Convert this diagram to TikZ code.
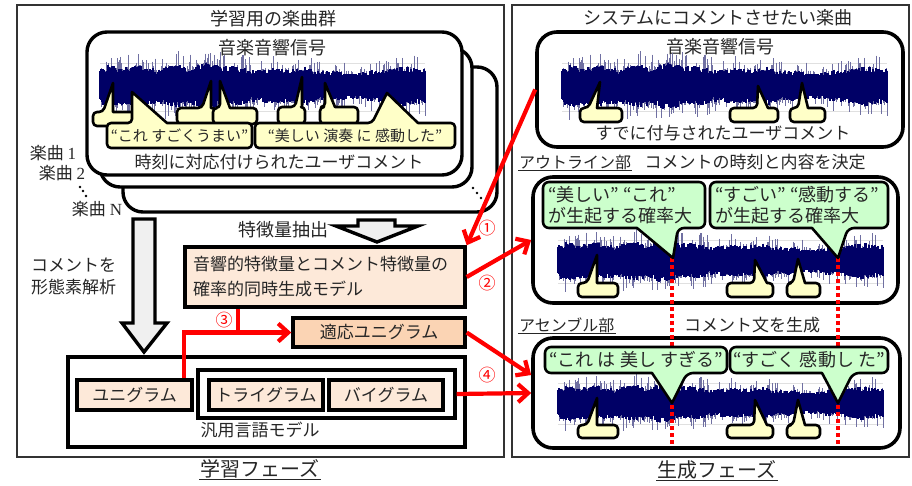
\documentclass[tikz,border=0pt]{standalone}
\usepackage{fontspec}
\setmainfont{Noto Sans CJK JP}
\newfontfamily\lat{Liberation Serif}
\usetikzlibrary{arrows.meta,calc}
\definecolor{navy}{HTML}{000066}
\definecolor{wavelt}{HTML}{7070A2}
\definecolor{yel}{HTML}{FFFFC8}
\definecolor{grn}{HTML}{CCFFCC}
\definecolor{peach}{HTML}{FDE9D9}
\definecolor{peachb}{HTML}{FBD4B4}
\definecolor{txt}{HTML}{262626}
\tikzset{
 panel/.style={draw=black!80, line width=1.3pt},
 songbox/.style={draw=black, line width=3.4pt, fill=white, rounded corners=20pt},
 rbox/.style={draw=black, line width=3.6pt, fill=white, rounded corners=20pt, inner sep=0pt},
 sqbox/.style={draw=black, line width=3.4pt, inner sep=0pt},
 bubble/.style={draw=black, line width=2.6pt, line join=round, rounded corners=4pt},
 ybub/.style={bubble, fill=yel},
 gbub/.style={bubble, fill=grn, rounded corners=6pt},
 fatarrow/.style={draw=black, line width=3.4pt, fill=black!6, line join=miter},
 redarrow/.style={draw=red, line width=4.2pt, -{Straight Barb[length=10pt,width=18pt]}},
 redline/.style={draw=red, line width=4.2pt},
 reddot/.style={draw=red, line width=4pt, dash pattern=on 3.5pt off 3.5pt},
 num/.style={text=red, font=\fontsize{17}{17}\selectfont},
 fl/.style={font=\fontsize{18}{21}\selectfont},
 fs/.style={font=\fontsize{15}{18}\selectfont},
 fm/.style={font=\fontsize{16}{18}\selectfont},
 fp/.style={font=\fontsize{20}{22}\selectfont},
}
\newcommand\mywave[4]{%
  \draw[black!12, line width=0.8pt] (#1,{#2-0.72*#4}) -- ++(#3,0) (#1,{#2+0.78*#4}) -- ++(#3,0);
  \pgfmathsetseed{4242}%
  \foreach \i in {0,...,#3}{%
    \pgfmathsetmacro\env{0.82+0.12*sin(\i*1.1)+0.08*sin(\i*3.7+50)+0.04*sin(\i*11)}%
    \pgfmathsetmacro\ra{rnd}\pgfmathsetmacro\rb{rnd}\pgfmathsetmacro\rc{rnd}\pgfmathsetmacro\rd{rnd}%
    \pgfmathsetmacro\ca{#4*\env*(0.46+0.24*\rc)}%
    \pgfmathsetmacro\cb{#4*\env*(0.46+0.24*\rd)}%
    \pgfmathsetmacro\ta{\ca+#4*\env*0.55*\ra*\ra*\ra*\ra}%
    \pgfmathsetmacro\tb{\cb+#4*\env*0.55*\rb*\rb*\rb*\rb}%
    \draw[wavelt, line width=0.7pt] (#1+\i,#2-\ta) -- (#1+\i,#2+\tb);
    \draw[navy, line width=1.3pt] (#1+\i,#2-\ca) -- (#1+\i,#2+\cb);
  }}
% bubble with pointer on top edge: x1,y1,x2,y2,bx1,bx2,tx,ty
\newcommand\bubup[9][]{\draw[#1] ({(#2+#4)/2},#5) -- (#2,#5) -- (#2,#3) -- (#6,#3) [sharp corners] -- (#8,#9) -- (#7,#3) [rounded corners=4pt] -- (#4,#3) -- (#4,#5) -- cycle;}
% bubble with pointer on bottom edge
\newcommand\bubdn[9][]{\draw[#1] ({(#2+#4)/2},#3) -- (#4,#3) -- (#4,#5) -- (#7,#5) [sharp corners] -- (#8,#9) -- (#6,#5) [rounded corners=6pt] -- (#2,#5) -- (#2,#3) -- cycle;}
\begin{document}
\begin{tikzpicture}[x=1pt,y=-1pt, every node/.style={text=txt, inner sep=1pt}, font=\fontsize{17}{20}\selectfont]
\useasboundingbox (0,0) rectangle (912,485);
\fill[white] (0,0) rectangle (912,485);
\draw[panel] (17,5) rectangle (504,457);
\draw[panel] (512,5) rectangle (909,457);

% ---------------- left panel ----------------
\node[fl] (lt) at (273,19) {学習用の楽曲群};
\draw[songbox] (123,67) rectangle (497,212);
\draw[songbox] (100,48) rectangle (472,187);
\draw[songbox] (87,32) rectangle (462,175);
\fill[black] (473,188) circle (1.4pt) (477,193) circle (1.4pt) (481,198) circle (1.4pt);
\fill[black] (80,187) circle (1.3pt) (83,191) circle (1.3pt) (86,196) circle (1.3pt);
\node (s1) at (53,153) {楽曲 {\lat 1}};
\node (s2) at (62,173) {楽曲 {\lat 2}};
\node (sn) at (97,209) {楽曲 {\lat N}};
\node[fl] (lsig) at (272,48) {音楽音響信号};
\mywave{100}{86}{325}{32}
\bubup[ybub]{93}{112}{140}{126}{103}{113}{113}{83}
\bubup[ybub]{177}{108}{216}{124}{202}{211}{211}{81}
\bubup[ybub]{213}{108}{257}{124}{220}{230}{220}{81}
\bubup[ybub]{278}{107}{305}{124}{295}{302}{302}{77}
\bubup[ybub]{320}{107}{358}{124}{325}{335}{325}{83}
\bubup[ybub]{107}{123}{252}{148}{132}{167}{132}{92}
\bubup[ybub]{255}{123}{455}{148}{372}{418}{387}{93}
\node[fs] (b1t) at (179.5,136) {“これ すごくうまい”};
\node[fs] (b2t) at (355,136) {“美しい 演奏 に 感動した”};
\node (lcom) at (279,162) {時刻に対応付けられたユーザコメント};

\node[fl] (fx) at (283,230) {特徴量抽出};
\draw[fatarrow] (358,220) -- (395,220) -- (395,226) -- (418,226) -- (377,242) -- (336,226) -- (358,226) -- cycle;
\draw[fatarrow] (133,219) -- (155,219) -- (155,323) -- (167,323) -- (144,352) -- (122,323) -- (133,323) -- cycle;
\node[anchor=west, align=left, font=\fontsize{17}{22}\selectfont] (morph) at (30,276) {コメントを\\形態素解析};

\node[sqbox, fill=peach, minimum width=280pt, minimum height=60pt] (model) at (325,277) {};
\node[anchor=west, align=left, font=\fontsize{17}{25}\selectfont] (modeltxt) at (192,277) {音響的特徴量とコメント特徴量の\\確率的同時生成モデル};
\node[sqbox, fill=peachb, minimum width=172pt, minimum height=29pt] (adapt) at (379,332.5) {適応ユニグラム};
\node[sqbox, fill=white, minimum width=397pt, minimum height=90pt] (gen) at (266.5,402) {};
\node[sqbox, fill=peach, minimum width=115pt, minimum height=30pt] (uni) at (134.5,395) {ユニグラム};
\node[sqbox, fill=white, minimum width=257pt, minimum height=48pt] (inner) at (326.5,394) {};
\node[sqbox, fill=peach, minimum width=114pt, minimum height=30pt] (tri) at (266,395) {トライグラム};
\node[sqbox, fill=peach, minimum width=114pt, minimum height=30pt] (bi) at (386,395) {バイグラム};
\node (genl) at (260,430) {汎用言語モデル};

\node[fp] (p1) at (260,469) {学習フェーズ};
\draw[line width=0.8pt, txt] (p1.south west) -- (p1.south east);

% ---------------- right panel ----------------
\node[fl] (rt) at (718,18) {システムにコメントさせたい楽曲};
\node[rbox, minimum width=366pt, minimum height=115pt] (sys) at (720,89.5) {};
\node[fl] (rsig) at (720,47) {音楽音響信号};
\mywave{562}{86}{325}{32}
\bubup[ybub]{580}{108}{622}{122}{588}{597}{600}{82}
\bubup[ybub]{730}{108}{778}{122}{757}{768}{758}{86}
\bubup[ybub]{790}{108}{825}{122}{798}{808}{802}{83}
\node (rcom) at (723,133) {すでに付与されたユーザコメント};

\node[fm, anchor=west] (olbl) at (518,162) {アウトライン部};
\draw[line width=0.8pt, txt] (olbl.south west) -- (olbl.south east);
\node (odesc) at (755,162) {コメントの時刻と内容を決定};
\node[rbox, minimum width=365pt, minimum height=126pt] (outl) at (715.5,240) {};
\mywave{558}{261}{325}{29}

\node[fm, anchor=west] (albl) at (518,325) {アセンブル部};
\draw[line width=0.8pt, txt] (albl.south west) -- (albl.south east);
\node (adesc) at (752,325) {コメント文を生成};
\node[rbox, minimum width=367pt, minimum height=110pt] (asm) at (716.5,393) {};
\mywave{558}{403}{325}{27}

\coordinate (tipA) at (672,258);
\coordinate (tipB) at (838,258);
\coordinate (endA) at (672,446);
\coordinate (endB) at (838,446);
\draw[reddot] (tipA) -- (endA);
\draw[reddot] (tipB) -- (endB);

\bubup[ybub]{578}{283}{618}{297}{587}{597}{597}{255}
\bubup[ybub]{727}{283}{773}{297}{754}{767}{755}{260}
\bubup[ybub]{787}{283}{820}{297}{793}{805}{798}{259}
\bubdn[gbub]{543}{182}{705}{228}{637}{678}{673}{258}
\bubdn[gbub]{710}{182}{888}{228}{812}{848}{838}{258}
\node[fl, align=left, anchor=west] (g1t) at (547,205) {“美しい” “これ”\\が生起する確率大};
\node[fl, align=left, anchor=west] (g2t) at (714,205) {“すごい” “感動する”\\が生起する確率大};

\bubup[ybub]{578}{425}{618}{438}{587}{597}{597}{398}
\bubup[ybub]{727}{425}{773}{438}{754}{767}{755}{400}
\bubup[ybub]{787}{425}{820}{438}{793}{805}{798}{400}
\bubdn[gbub]{545}{347}{727}{373}{652}{687}{672}{403}
\bubdn[gbub]{730}{347}{888}{373}{822}{853}{838}{403}
\node[fl] (a1t) at (636,360) {“これ は 美し すぎる”};
\node[fl] (a2t) at (809,360) {“すごく 感動し た”};

\node[fp] (p2) at (717,470) {生成フェーズ};
\draw[line width=0.8pt, txt] (p2.south west) -- (p2.south east);

% ---------------- red connectors ----------------
\draw[redarrow] (sys.west) -- (model.north east);
\draw[redarrow] (model.east) -- (outl.west);
\coordinate (s3) at ($(uni.north east)+(-10,0)$);
\coordinate (j3) at ($(model.south west)+(55,0)$);
\draw[redline] (j3) -- (j3 |- adapt.west);
\draw[redarrow] (s3) |- (adapt.west);
\coordinate (a4) at ($(asm.west)+(0,-18)$);
\draw[redarrow] (adapt.east) -- (a4);
\draw[redarrow] (inner.east) -- (asm.west);
\node[num] (n1) at (487,228) {①};
\node[num] (n2) at (487,283) {②};
\node[num] (n3) at (224,320) {③};
\node[num] (n4) at (487,375) {④};
\end{tikzpicture}
\end{document}
